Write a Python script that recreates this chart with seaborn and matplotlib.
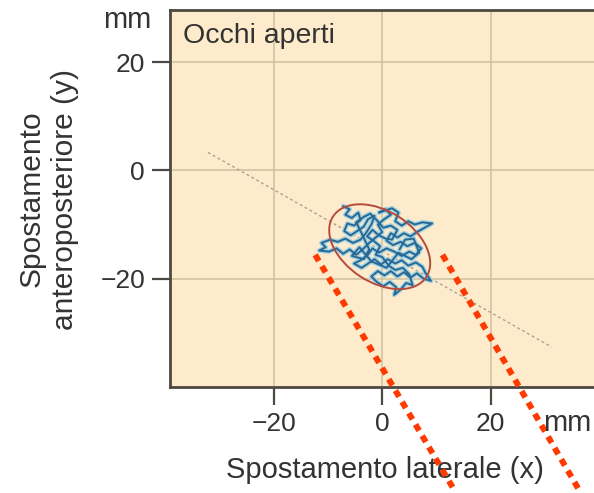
import matplotlib
matplotlib.use("Agg")
import matplotlib.pyplot as plt
from matplotlib.patches import Ellipse
import seaborn as sns
import pandas as pd

# ---- data ----
trace_x = [-7.2, -6.0, -6.8, -5.6, -4.4, -4.0, -5.2, -6.4, -7.0, -5.8, -4.6, -3.4, -2.6, -1.4, -2.0,
           -3.0, -4.0, -5.4, -6.8, -8.2, -9.6, -11.2, -10.4, -11.6, -9.8, -8.4, -7.2, -6.0, -4.8, -3.6,
           -2.4, -1.2, 0.0, -0.8, 0.4, 1.6, 0.6, -0.6, 1.8, 3.0, 2.4, 3.6, 4.8, 6.0, 7.4,
           9.2, 7.8, 6.4, 5.2, 4.0, 2.8, 1.6, 0.8, 2.0, 3.4, 4.6, 6.0, 7.2, 6.2, 5.0,
           3.6, 2.2, 0.8, -0.6, -1.8, -2.8, -4.0, -5.2, -3.8, -2.6, -1.4, -0.2, 1.0, 2.4, 3.6,
           4.8, 6.2, 7.4, 8.0, 9.0, 7.6, 6.4, 5.2, 4.0, 2.8, 1.6, 0.4, -0.8, -2.0, -1.0,
           0.2, 1.4, 2.6, 2.2, 3.4, 4.4, 5.6, 5.0, 3.8, 2.4, 1.2, 0.0, -1.2, -0.4, -1.6,
           -2.8, -1.8, -0.6, 0.6, 1.8, 2.8, 1.6, 0.2, -1.0, -2.2, -3.4, -4.8, -3.6, -2.4, -3.4,
           -5.6, -4.2, -2.0, 0.8, 3.0, 5.4, 6.8, 5.8, 4.2, 3.2]
trace_y = [-6.6, -7.2, -8.2, -8.8, -7.8, -9.2, -10.2, -9.8, -11.2, -12.0, -11.2, -10.4, -9.0, -8.4, -10.0,
           -11.6, -12.8, -13.4, -12.6, -13.2, -12.8, -13.4, -14.2, -14.8, -15.0, -14.4, -15.4, -14.6, -15.6, -14.6,
           -13.4, -12.4, -11.4, -10.0, -9.0, -8.2, -7.2, -7.8, -7.0, -7.8, -9.4, -10.2, -9.4, -10.0, -9.6,
           -9.8, -10.6, -11.4, -12.2, -11.6, -12.4, -11.6, -13.0, -13.8, -13.2, -14.0, -13.4, -14.4, -15.6, -15.0,
           -15.8, -15.0, -14.4, -15.2, -14.4, -15.8, -16.6, -17.2, -18.0, -17.2, -16.4, -17.4, -16.4, -17.2, -16.6,
           -17.6, -17.0, -17.8, -19.0, -20.4, -20.0, -19.0, -19.8, -18.8, -19.6, -18.6, -19.4, -18.6, -19.6, -20.6,
           -21.4, -20.6, -21.6, -23.0, -22.0, -20.8, -21.2, -19.2, -18.0, -18.4, -17.6, -16.0, -15.6, -14.0, -13.0,
           -12.2, -11.0, -12.0, -12.6, -12.8, -11.0, -10.2, -10.6, -9.2, -8.0, -8.6, -9.6, -12.0, -14.6, -16.4,
           -15.8, -14.2, -16.8, -18.0, -15.2, -16.4, -15.2, -12.6, -12.8, -14.6]

fit_x = [-32.1, 31.2]
fit_y = [3.3, -32.6]

ellipse_center = (-0.46, -14.1)
ellipse_width = 20.5
ellipse_height = 13.1
ellipse_angle = -33.0

ticks = [-20, 0, 20]
tick_labels = ["\u221220", "0", "20"]

pointer1_x = [-12.35, 13.5]
pointer1_y = [-15.6, -59.4]
pointer2_x = [11.1, 36.5]
pointer2_y = [-15.6, -59.4]

title = "Occhi aperti"
xlabel = "Spostamento laterale (x)"
ylabel = "Spostamento\nanteroposteriore (y)"
unit = "mm"

# ---- style ----
sns.set_theme(style="ticks")
plt.rcParams["font.family"] = ["Liberation Sans", "DejaVu Sans"]

fig = plt.figure(figsize=(5.94, 4.93), dpi=100)
W, H = 594, 493
L, R, T, B = 170, 602, 10, 387
ax = fig.add_axes([L / W, (H - B) / H, (R - L) / W, (B - T) / H])
ax.set_facecolor("#fdebcc")

ax.set_xlim(-39.1, 40.5)
ax.set_ylim(-40.0, 29.6)
ax.set_xticks(ticks)
ax.set_yticks(ticks)
ax.set_xticklabels(tick_labels)
ax.set_yticklabels(tick_labels)
ax.grid(True, color="#cdbf9f", linewidth=1.1)
ax.set_axisbelow(True)

for s in ax.spines.values():
    s.set_color("#4d4940")
    s.set_linewidth(2.0)

ax.tick_params(axis="both", labelsize=19, labelcolor="#333333", length=13, width=1.6,
               color="#4d4940", pad=5)

# regression line
sns.lineplot(x=fit_x, y=fit_y, ax=ax, color="#aaa096", linewidth=1.0,
             linestyle=(0, (2, 2)), sort=False, estimator=None)

# trace
df = pd.DataFrame({"x": trace_x, "y": trace_y})
sns.lineplot(data=df, x="x", y="y", ax=ax, sort=False, estimator=None,
             color="#a3d2e2", linewidth=3.4)
sns.lineplot(data=df, x="x", y="y", ax=ax, sort=False, estimator=None,
             color="#286892", linewidth=1.4)

# ellipse
ax.add_patch(Ellipse(ellipse_center, ellipse_width, ellipse_height, angle=ellipse_angle,
                     fill=False, edgecolor="#b84a3c", linewidth=1.4, zorder=5))

# title
ax.text(0.03, 0.965, title, transform=ax.transAxes, ha="left", va="top",
        fontsize=20.5, color="#333333")

# units
fig.text(127 / W, 1 - 20 / H, unit, ha="center", va="center", fontsize=21, color="#333333")
fig.text(567 / W, 1 - 423 / H, unit, ha="center", va="center", fontsize=21, color="#333333")

ax.set_xlabel(xlabel, fontsize=21, color="#333333")
ax.set_ylabel(ylabel, fontsize=21.5, color="#333333", linespacing=1.25)
ax.xaxis.set_label_coords((385 - L) / (R - L), -(470 - B) / (B - T))
ax.yaxis.set_label_coords(-(L - 48) / (R - L), (B - 199) / (B - T))
ax.xaxis.label.set_va("center")
ax.yaxis.label.set_va("center")

# pointer overlay lines
for px, py in [(pointer1_x, pointer1_y), (pointer2_x, pointer2_y)]:
    ax.plot(px, py, color="#ff3a00", linewidth=4.3, linestyle=(0, (1.2, 1.0)),
            solid_capstyle="butt", dash_capstyle="butt", clip_on=False, zorder=10)

fig.savefig("out.png", dpi=100)
